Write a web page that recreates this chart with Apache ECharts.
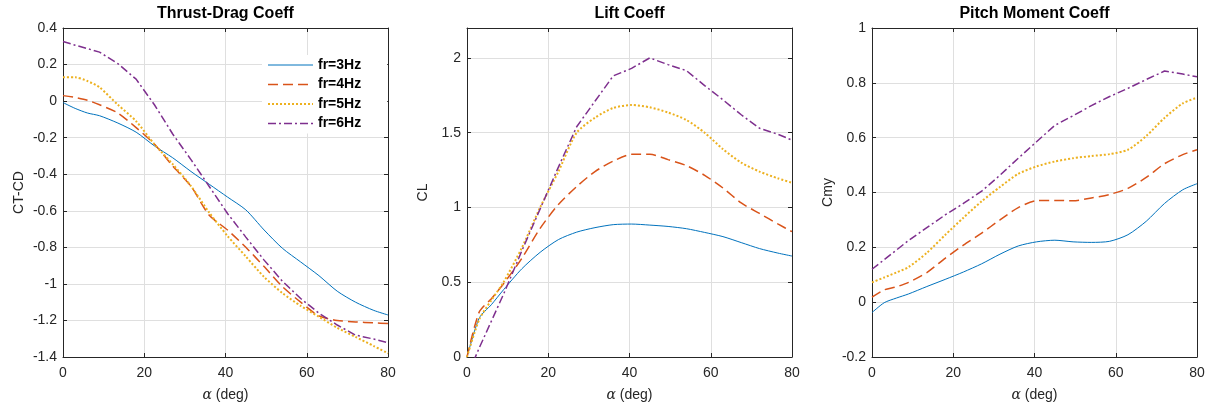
<!DOCTYPE html>
<html><head><meta charset="utf-8">
<script src="https://cdn.jsdelivr.net/npm/echarts@6/dist/echarts.min.js"></script>
<style>html,body{margin:0;padding:0;background:#fff}#c{width:1214px;height:408px}</style>
</head><body><div id="c"></div>
<script>
// ---------- data ----------
const alpha = [0,3,6,9,13.5,18,22.5,27,31.5,36,40.5,45,49.5,54,58.5,63,67.5,72,76.5,80];
const seriesNames = ['fr=3Hz','fr=4Hz','fr=5Hz','fr=6Hz'];
const panelTitles = ['Thrust-Drag Coeff','Lift Coeff','Pitch Moment Coeff'];
const yNames = ['CT-CD','CL','Cmy'];
const xTicks = [0,20,40,60,80];
const yTicks1 = [-1.4,-1.2,-1,-0.8,-0.6,-0.4,-0.2,0,0.2,0.4];
const yTicks2 = [0,0.5,1,1.5,2];
const yTicks3 = [-0.2,0,0.2,0.4,0.6,0.8,1];

// Thrust-Drag coefficient
const ctcd3 = [-0.008,-0.04,-0.065,-0.08,-0.12,-0.17,-0.245,-0.31,-0.385,-0.455,-0.525,-0.595,-0.705,-0.805,-0.88,-0.955,-1.04,-1.10,-1.145,-1.17];
const ctcd4 = [0.03,0.02,0.005,-0.02,-0.065,-0.145,-0.235,-0.355,-0.466,-0.625,-0.705,-0.80,-0.905,-1.015,-1.10,-1.175,-1.20,-1.208,-1.213,-1.217];
const ctcd5 = [0.13,0.13,0.11,0.075,-0.02,-0.11,-0.236,-0.345,-0.465,-0.61,-0.738,-0.85,-0.962,-1.05,-1.12,-1.18,-1.24,-1.29,-1.34,-1.38];
const ctcd6 = [0.326,0.306,0.287,0.268,0.205,0.12,-0.02,-0.18,-0.32,-0.467,-0.615,-0.744,-0.87,-0.985,-1.08,-1.16,-1.225,-1.28,-1.302,-1.322];

// Lift coefficient
const cl3 = [0,0.26,0.35,0.45,0.59,0.70,0.785,0.835,0.865,0.885,0.889,0.882,0.873,0.858,0.833,0.805,0.765,0.725,0.695,0.675];
const cl4 = [0,0.30,0.39,0.49,0.66,0.86,1.02,1.14,1.24,1.31,1.355,1.355,1.32,1.28,1.215,1.13,1.03,0.96,0.89,0.838];
const cl5 = [0,0.25,0.38,0.50,0.73,1.00,1.24,1.50,1.60,1.665,1.685,1.67,1.635,1.585,1.50,1.39,1.30,1.24,1.195,1.165];
const cl6 = [-0.13,0.06,0.24,0.42,0.71,0.99,1.27,1.54,1.71,1.88,1.93,2.0,1.955,1.915,1.815,1.72,1.62,1.53,1.49,1.45];

// Pitch moment coefficient
const cmy3 = [-0.038,-0.002,0.015,0.03,0.057,0.083,0.11,0.14,0.175,0.205,0.22,0.226,0.22,0.218,0.222,0.246,0.295,0.36,0.41,0.432];
const cmy4 = [0.018,0.045,0.056,0.072,0.108,0.16,0.208,0.252,0.30,0.345,0.37,0.371,0.37,0.38,0.393,0.415,0.455,0.505,0.538,0.556];
const cmy5 = [0.072,0.09,0.108,0.128,0.18,0.245,0.308,0.368,0.42,0.468,0.495,0.513,0.525,0.533,0.54,0.556,0.606,0.672,0.725,0.746];
const cmy6 = [0.12,0.155,0.19,0.225,0.272,0.318,0.36,0.405,0.463,0.525,0.585,0.645,0.68,0.717,0.75,0.78,0.812,0.843,0.832,0.822];

// ---------- build ----------
const panels = [
  {data:[ctcd3,ctcd4,ctcd5,ctcd6], ticks:yTicks1, interval:0.2},
  {data:[cl3,cl4,cl5,cl6], ticks:yTicks2, interval:0.5, max:2.2},
  {data:[cmy3,cmy4,cmy5,cmy6], ticks:yTicks3, interval:0.2}
];
const lefts = [63, 467, 872];
const W = 325, TOP = 28, H = 329;
const styles = [
  {color:'#0072BD', width:1, type:'solid'},
  {color:'#D95319', width:1.5, type:[10,5]},
  {color:'#EDB120', width:2, type:[2,2]},
  {color:'#7E2F8E', width:1.5, type:[8,3,2,3]}
];
const FONT = 'Liberation Sans, Arial, Helvetica, sans-serif';
const AX = '#262626', GRIDC = '#dfdfdf';

const grid = [], xAxis = [], yAxis = [], series = [], title = [];
panels.forEach((p, i) => {
  grid.push({left: lefts[i], top: TOP, width: W, height: H, containLabel: false});
  title.push({text: panelTitles[i], left: lefts[i] + W/2, top: 6, textAlign: 'center', padding: 0,
    textStyle: {fontFamily: FONT, fontSize: 16, fontWeight: 'bold', color: '#000'}});
  const ymin = p.ticks[0], ymax = p.max !== undefined ? p.max : p.ticks[p.ticks.length-1];
  const isTick = v => p.ticks.some(t => Math.abs(t - v) < 1e-6);
  xAxis.push({type:'value', gridIndex:i, min:xTicks[0], max:xTicks[xTicks.length-1], interval:20, position:'bottom',
    name: '{a|α} (deg)', nameLocation:'middle', nameGap:31,
    nameTextStyle:{fontFamily:FONT, fontSize:14, color:AX, rich:{a:{fontFamily:'DejaVu Serif', fontStyle:'italic', fontSize:14, color:AX}}},
    axisLine:{show:true, onZero:false, lineStyle:{color:AX, width:1}},
    axisTick:{show:true, inside:true, length:4, lineStyle:{color:AX}},
    axisLabel:{fontFamily:FONT, fontSize:14, color:AX, margin:9},
    splitLine:{show:true, lineStyle:{color:GRIDC, width:1}}});
  xAxis.push({type:'value', gridIndex:i, min:xTicks[0], max:xTicks[xTicks.length-1], interval:20, position:'top',
    axisLine:{show:true, onZero:false, lineStyle:{color:AX, width:1}},
    axisTick:{show:true, inside:true, length:4, lineStyle:{color:AX}},
    axisLabel:{show:false}, splitLine:{show:false}});
  yAxis.push({type:'value', gridIndex:i, min:ymin, max:ymax, interval:p.interval, position:'left',
    name: yNames[i], nameLocation:'middle', nameGap:37, nameRotate:90,
    nameTextStyle:{fontFamily:FONT, fontSize:14, color:AX},
    axisLine:{show:true, onZero:false, lineStyle:{color:AX, width:1}},
    axisTick:{show:true, inside:true, length:4, lineStyle:{color:AX}},
    axisLabel:{fontFamily:FONT, fontSize:14, color:AX, margin:6,
      formatter: v => isTick(v) ? String(parseFloat(v.toFixed(4))) : ''},
    splitLine:{show:true, lineStyle:{color:GRIDC, width:1}}});
  yAxis.push({type:'value', gridIndex:i, min:ymin, max:ymax, interval:p.interval, position:'right',
    axisLine:{show:true, onZero:false, lineStyle:{color:AX, width:1}},
    axisTick:{show:true, inside:true, length:4, lineStyle:{color:AX}},
    axisLabel:{show:false}, splitLine:{show:false}});
  p.data.forEach((arr, k) => {
    series.push({type:'line', name:seriesNames[k], xAxisIndex:2*i, yAxisIndex:2*i,
      data: alpha.map((a, j) => [a, arr[j]]),
      symbol:'none', smooth: k === 3 ? false : 0.25, clip:true, animation:false,
      color: styles[k].color,
      lineStyle:{color:styles[k].color, width:styles[k].width, type:styles[k].type}});
  });
});

const chart = echarts.init(document.getElementById('c'), null, {renderer:'canvas'});
chart.setOption({
  animation:false,
  backgroundColor:'#fff',
  title, grid, xAxis, yAxis, series,
  legend:{data: seriesNames.map((n, k) => ({name:n,
      lineStyle:{color:styles[k].color, width:styles[k].width, type:styles[k].type}})),
    orient:'vertical', left:262, top:55, padding:[3,26,3,5],
    itemWidth:45, itemHeight:14, itemGap:5.5, backgroundColor:'#fff', borderWidth:0,
    itemStyle:{opacity:0},
    textStyle:{fontFamily:FONT, fontSize:14, fontWeight:'bold', color:'#000'},
    selectedMode:false}
});
</script>
</body></html>
